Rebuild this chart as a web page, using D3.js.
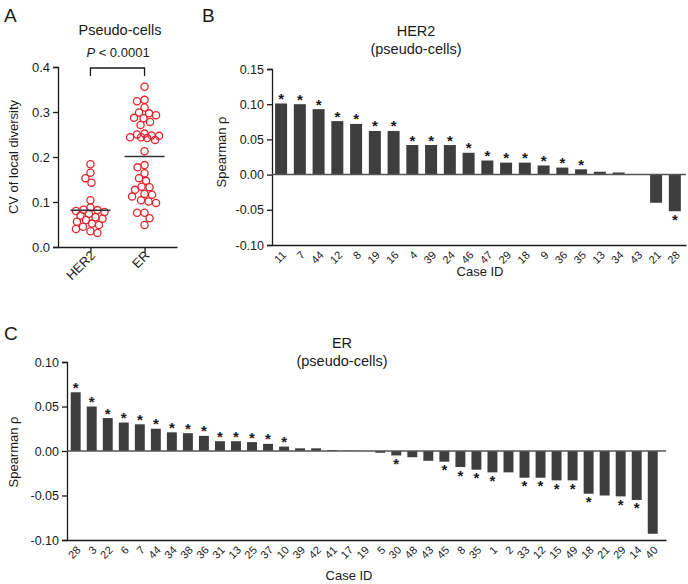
<!DOCTYPE html>
<html>
<head>
<meta charset="utf-8">
<script src="https://cdn.jsdelivr.net/npm/d3@7"></script>
<style>
  body { margin: 0; background: #fff; }
  svg { font-family: "Liberation Sans", Arial, Helvetica, sans-serif; }
</style>
</head>
<body>
<svg id="fig" width="688" height="584"></svg>
<script>
"use strict";

// panel A: CV of local diversity per case
var groups = ["HER2", "ER"];
var her2CV = [0.184, 0.165, 0.153, 0.143, 0.104, 0.088, 0.083, 0.082, 0.080, 0.078, 0.074,
              0.070, 0.066, 0.063, 0.060, 0.056, 0.052, 0.049, 0.045, 0.040, 0.035, 0.031];
var erCV = [0.356, 0.327, 0.324, 0.310, 0.299, 0.297, 0.293, 0.287, 0.286, 0.278, 0.271,
            0.252, 0.250, 0.248, 0.247, 0.244, 0.244, 0.242, 0.238, 0.213,
            0.182, 0.177, 0.164, 0.153, 0.147, 0.134, 0.133, 0.127, 0.118, 0.116,
            0.112, 0.104, 0.101, 0.098, 0.076, 0.076, 0.064, 0.049];
var cvTicks = [0, 0.1, 0.2, 0.3, 0.4];

// panel B: HER2 spearman rho
var her2Cases = ["11", "7", "44", "12", "8", "19", "16", "4", "39", "24", "46", "47", "29",
                 "18", "9", "36", "35", "13", "34", "43", "21", "28"];
var her2Rho = [0.101, 0.100, 0.093, 0.076, 0.072, 0.062, 0.062, 0.042, 0.042, 0.042, 0.031,
               0.020, 0.017, 0.017, 0.013, 0.010, 0.0075, 0.004, 0.003, 0.0, -0.040, -0.052];
var her2Sig = [1, 1, 1, 1, 1, 1, 1, 1, 1, 1, 1, 1, 1, 1, 1, 1, 1, 0, 0, 0, 0, 1];
var her2Ticks = [-0.10, -0.05, 0.00, 0.05, 0.10, 0.15];

// panel C: ER spearman rho
var erCases = ["28", "3", "22", "6", "7", "44", "34", "38", "36", "31", "13", "25", "37",
               "10", "39", "42", "41", "17", "19", "5", "30", "48", "43", "45", "8", "35",
               "1", "2", "33", "12", "15", "49", "18", "21", "29", "14", "40"];
var erRho = [0.066, 0.050, 0.037, 0.032, 0.030, 0.025, 0.021, 0.020, 0.017, 0.011, 0.011,
             0.010, 0.008, 0.005, 0.003, 0.003, 0.001, 0.0003, 0.0, -0.002, -0.005, -0.007,
             -0.011, -0.012, -0.018, -0.021, -0.024, -0.024, -0.030, -0.030, -0.033, -0.033,
             -0.048, -0.050, -0.051, -0.055, -0.093];
var erSig = [1, 1, 1, 1, 1, 1, 1, 1, 1, 1, 1, 1, 1, 1, 0, 0, 0, 0, 0, 0, 1, 0, 0, 1, 1, 1,
             1, 0, 1, 1, 1, 1, 1, 0, 1, 1, 0];
var erTicks = [-0.10, -0.05, 0.00, 0.05, 0.10];

var svg = d3.select("#fig");
var ink = "#1a1a1a";
var red = "#e3262d";
var barFill = "#3e3e3e";
var fmt2 = function (d) { return d.toFixed(2); };

function styleAxis(g) {
    g.select(".domain").attr("stroke", ink).attr("stroke-width", 1.3);
    g.selectAll(".tick line").attr("stroke", ink).attr("stroke-width", 1.3);
    g.selectAll(".tick text").attr("fill", ink).style("font-family", "Liberation Sans, Arial, sans-serif");
}

function letter(t, x, y) {
    svg.append("text").attr("x", x).attr("y", y).text(t)
        .style("font-size", "19px").attr("fill", ink);
}

// ---------------- panel A ----------------
letter("A", 4, 22);

var ax = d3.scalePoint().domain(groups).range([58, 177]).padding(0.6);
var ay = d3.scaleLinear().domain([0, 0.4]).range([247, 67]);

svg.append("g").attr("transform", "translate(58,0)")
    .call(d3.axisLeft(ay).tickValues(cvTicks).tickFormat(d3.format(".1f")).tickSize(5).tickPadding(3))
    .call(styleAxis)
    .selectAll(".tick text").style("font-size", "13px");

var axB = svg.append("g").attr("transform", "translate(0,247)")
    .call(d3.axisBottom(ax).tickSize(5).tickSizeOuter(0))
    .call(styleAxis);
axB.selectAll(".tick text")
    .style("font-size", "13px")
    .attr("text-anchor", "end")
    .attr("dy", "0.35em")
    .attr("transform", "translate(2,6) rotate(-45)")
    .attr("y", 0).attr("x", 0);

svg.append("text")
    .attr("transform", "translate(18,157) rotate(-90)")
    .attr("text-anchor", "middle")
    .style("font-size", "13px").attr("fill", ink)
    .text("CV of local diversity");

svg.append("text").attr("x", 120).attr("y", 35).attr("text-anchor", "middle")
    .style("font-size", "14.5px").attr("fill", ink).text("Pseudo-cells");

var pt = svg.append("text").attr("x", 118).attr("y", 57).attr("text-anchor", "middle")
    .style("font-size", "13px").attr("fill", ink);
pt.append("tspan").style("font-style", "italic").text("P");
pt.append("tspan").text(" < 0.0001");

// significance bracket
svg.append("path")
    .attr("d", "M" + ax("HER2") + "," + (ay(0.4) + 9) + "V" + (ay(0.4) + 1) +
               "H" + ax("ER") + "V" + (ay(0.4) + 9))
    .attr("fill", "none").attr("stroke", ink).attr("stroke-width", 1.3);

// beeswarm, kept inside +-maxOff; overlaps allowed when it gets crowded
function swarm(values, cx, minDist, maxOff) {
    var placed = [];
    var sorted = values.slice().sort(function (a, b) { return b - a; });
    sorted.forEach(function (v) {
        var y = ay(v), best = null, bestD = -1;
        for (var k = 0; k <= maxOff * 4; k++) {
            var off = (k % 2 === 0 ? 1 : -1) * Math.ceil(k / 2) * 0.5;
            var x = cx + off;
            var dmin = d3.min(placed, function (p) { return Math.hypot(p.x - x, p.y - y); });
            if (dmin === undefined || dmin >= minDist) { best = x; break; }
            if (dmin > bestD) { bestD = dmin; best = x; }
        }
        placed.push({x: best, y: y});
    });
    return placed;
}

[her2CV, erCV].forEach(function (vals, i) {
    var g = groups[i];
    var pts = swarm(vals, ax(g), 7.2, 15);
    svg.append("g").selectAll("circle").data(pts).enter().append("circle")
        .attr("cx", function (d) { return d.x; })
        .attr("cy", function (d) { return d.y; })
        .attr("r", 3.6)
        .attr("fill", "none")
        .attr("stroke", red)
        .attr("stroke-width", 1.3);
    var m = d3.mean(vals);
    svg.append("line")
        .attr("x1", ax(g) - 20).attr("x2", ax(g) + 20)
        .attr("y1", ay(m)).attr("y2", ay(m))
        .attr("stroke", "#333").attr("stroke-width", 1.5);
});

// ---------------- bar panels ----------------
function barPanel(o) {
    var x = d3.scaleBand().domain(o.cases).range(o.xr)
        .paddingInner(o.pi).paddingOuter(o.po).align(o.align);
    var y = d3.scaleLinear().domain(o.yd).range(o.yr);
    var data = o.cases.map(function (c, i) { return {c: c, v: o.rho[i], s: o.sig[i]}; });

    svg.append("g").attr("transform", "translate(" + o.xr[0] + ",0)")
        .call(d3.axisLeft(y).tickValues(o.ticks).tickFormat(fmt2).tickSize(5).tickPadding(3))
        .call(styleAxis)
        .selectAll(".tick text").style("font-size", "12.5px");

    var xa = svg.append("g").attr("transform", "translate(0," + o.yr[0] + ")")
        .call(d3.axisBottom(x).tickSize(0).tickSizeOuter(0))
        .call(styleAxis);
    xa.selectAll(".tick text")
        .style("font-size", "11px")
        .attr("text-anchor", "end")
        .attr("dy", "0.35em")
        .attr("transform", "translate(3,8) rotate(-45)")
        .attr("y", 0).attr("x", 0);

    svg.append("g").selectAll("rect").data(data).enter().append("rect")
        .attr("x", function (d) { return x(d.c); })
        .attr("width", x.bandwidth())
        .attr("y", function (d) { return y(Math.max(0, d.v)); })
        .attr("height", function (d) { return Math.abs(y(d.v) - y(0)); })
        .attr("fill", barFill);

    svg.append("line")
        .attr("x1", o.xr[0]).attr("x2", o.xr[1])
        .attr("y1", y(0)).attr("y2", y(0))
        .attr("stroke", "#555").attr("stroke-width", 1.5);

    // significance stars
    svg.append("g").selectAll("text").data(data.filter(function (d) { return d.s; }))
        .enter().append("text")
        .attr("x", function (d) { return x(d.c) + x.bandwidth() / 2; })
        .attr("y", function (d) { return d.v >= 0 ? y(d.v) + 0.5 : y(d.v) + 13.5; })
        .attr("text-anchor", "middle")
        .style("font-size", "15px").style("font-weight", "bold").attr("fill", ink)
        .text("*");

    svg.append("text")
        .attr("transform", "translate(" + o.ylab[0] + "," + o.ylab[1] + ") rotate(-90)")
        .attr("text-anchor", "middle")
        .style("font-size", "13px").attr("fill", ink)
        .text("Spearman \u03c1");

    svg.append("text").attr("x", o.xlab[0]).attr("y", o.xlab[1]).attr("text-anchor", "middle")
        .style("font-size", "13px").attr("fill", ink).text("Case ID");

    svg.append("text").attr("x", o.title[0]).attr("y", o.title[1]).attr("text-anchor", "middle")
        .style("font-size", "14.5px").attr("fill", ink).text(o.name);
    svg.append("text").attr("x", o.title[0]).attr("y", o.title[1] + 18).attr("text-anchor", "middle")
        .style("font-size", "14.5px").attr("fill", ink).text("(pseudo-cells)");
}

letter("B", 202, 22);
barPanel({
    cases: her2Cases, rho: her2Rho, sig: her2Sig, ticks: her2Ticks,
    xr: [272, 686], pi: 0.36, po: 0.22, align: 0.375,
    yd: [-0.10, 0.15], yr: [245, 69],
    ylab: [226, 152], xlab: [480, 276], title: [416, 36], name: "HER2"
});

letter("C", 4, 340);
barPanel({
    cases: erCases, rho: erRho, sig: erSig, ticks: erTicks,
    xr: [67, 666], pi: 0.38, po: 0.375, align: 0.31,
    yd: [-0.10, 0.10], yr: [540, 362],
    ylab: [18, 452], xlab: [349, 580], title: [342, 348], name: "ER"
});
</script>
</body>
</html>
